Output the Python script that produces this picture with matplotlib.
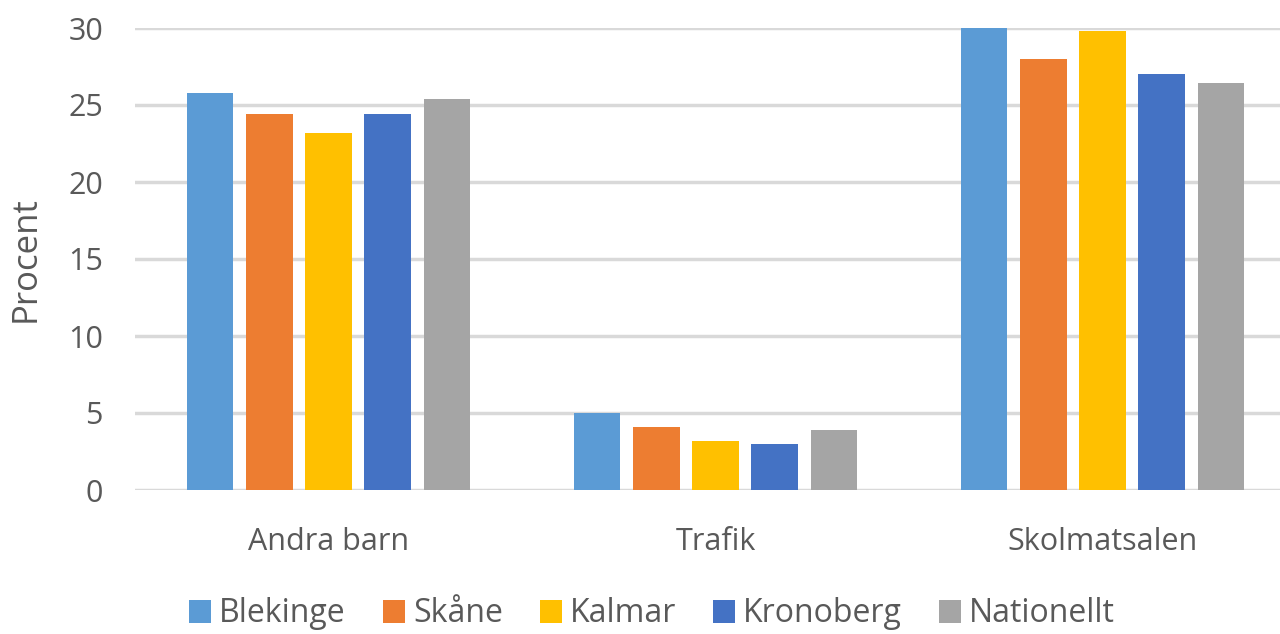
import matplotlib.pyplot as plt
import numpy as np

categories = ['Andra barn', 'Trafik', 'Skolmatsalen']
regions = ['Blekinge', 'Skåne', 'Kalmar', 'Kronoberg', 'Nationellt']
values = {
    'Blekinge':   [25.8, 5.0, 30.0],
    'Skåne':      [24.4, 4.1, 28.0],
    'Kalmar':     [23.2, 3.2, 29.8],
    'Kronoberg':  [24.4, 3.0, 27.0],
    'Nationellt': [25.4, 3.9, 26.4],
}
colors = ['#5B9BD5', '#ED7D31', '#FFC000', '#4472C4', '#A5A5A5']
yticks = [0, 5, 10, 15, 20, 25, 30]

plt.rcParams['font.family'] = ['Open Sans', 'DejaVu Sans']
text_color = '#595959'

fig = plt.figure(figsize=(12.8, 6.34), dpi=100)
# axes run past the right edge, like the cropped original
ax = fig.add_axes([135 / 1280, 1 - 490 / 634, 1161 / 1280, 462 / 634])

x = np.arange(len(categories))
width = 0.119
step = 0.1525
for i, (name, col) in enumerate(zip(regions, colors)):
    ax.bar(x + (i - 2) * step, values[name], width, color=col, label=name, zorder=3)

ax.set_xlim(-0.5, 2.5)
ax.set_ylim(0, 30)
ax.set_yticks(yticks)
ax.set_xticks(x)
ax.set_xticklabels(categories)
ax.grid(axis='y', color='#D9D9D9', linewidth=2.5, zorder=0)
for s in ax.spines.values():
    s.set_visible(False)
ax.tick_params(axis='both', length=0, labelsize=22, colors=text_color)
ax.tick_params(axis='y', pad=23)
ax.tick_params(axis='x', pad=27)
ax.set_ylabel('Procent', fontsize=25, color=text_color)
ax.yaxis.set_label_coords(-92 / 1161, 0.5)

fig.legend(loc='center', bbox_to_anchor=(652 / 1280, 1 - 614 / 634), ncol=5,
           frameon=False, fontsize=23, labelcolor=text_color,
           handlelength=0.7, handleheight=0.7, handletextpad=0.25, columnspacing=1.15,
           borderaxespad=0, borderpad=0)

fig.savefig('out.png', dpi=100)
